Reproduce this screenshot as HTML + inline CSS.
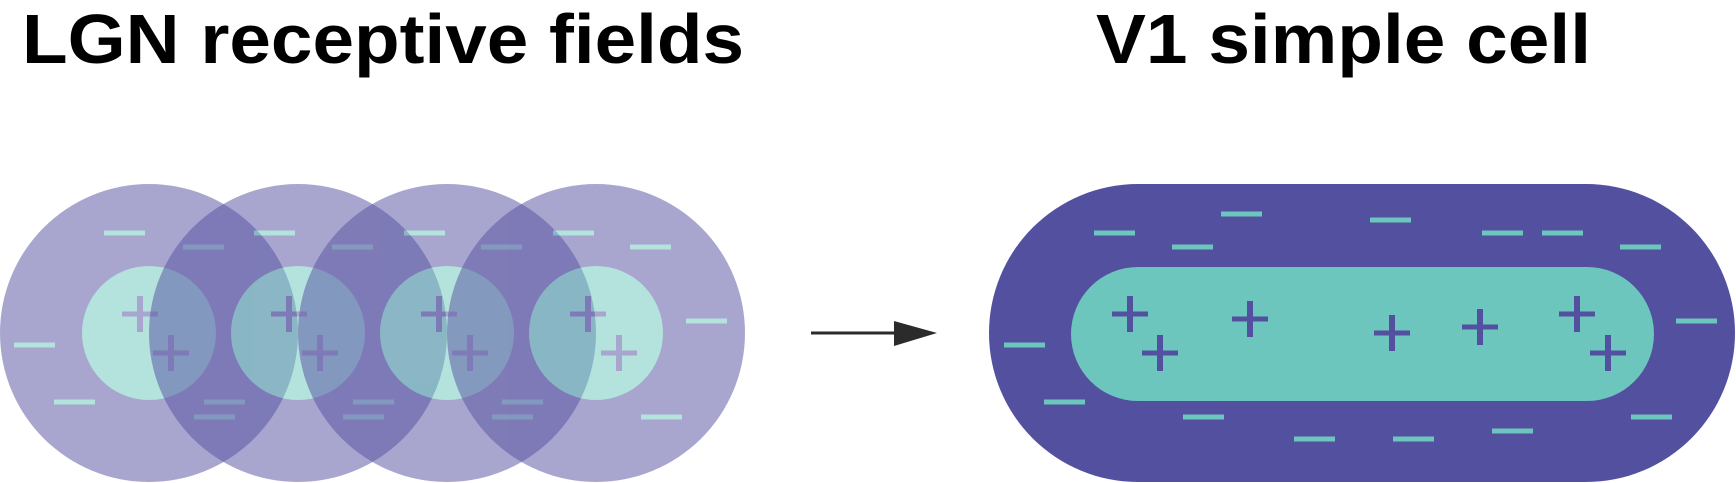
<!DOCTYPE html>
<html><head><meta charset="utf-8"><style>
html,body{margin:0;padding:0;background:#fff;}
svg{display:block;}
text{font-family:"Liberation Sans",Arial,sans-serif;font-weight:bold;fill:#000;}
</style></head><body>
<svg id="fig" width="1736" height="483" viewBox="0 0 1736 483" xmlns="http://www.w3.org/2000/svg">
<text x="22" y="63" font-size="70" textLength="722" lengthAdjust="spacingAndGlyphs">LGN receptive fields</text>
<text x="1096" y="63" font-size="70" textLength="495" lengthAdjust="spacingAndGlyphs">V1 simple cell</text>
<g id="lgn"></g>
<g>
<line x1="811" y1="333" x2="896" y2="333" stroke="#2b2b2b" stroke-width="3"/>
<polygon points="894,321 937,333 894,346" fill="#2b2b2b"/>
</g>
<g id="v1"></g>
</svg>
<script>
const PURPLE='#5350a0', TEAL='#6cc6bd';
const lgnCentersX=[149,298,447,596];
const lgnCy=333, outerR=149, innerR=67;
// minus bars per LGN field [x-left, y-center]
const lgnMinus=[
 [[104,233],[14,345],[54,402],[164,345],[183,247],[194,417],[204,402]],
 [[254,233],[238,321],[332,247],[313,345],[343,417],[353,402]],
 [[404,233],[388,321],[481,247],[462,345],[492,417],[502,402]],
 [[553,233],[537,321],[630,247],[686,321],[641,417]]
];
const lgnPlus=[[[140,314],[171,353]],[[289,314],[320,353]],[[439,314],[470,353]],[[588,314],[619,353]]];
const v1Minus=[[1094,233],[1221,214],[1370,220],[1482,233],[1542,233],[1620,247],[1172,247],[1004,345],[1676,321],[1044,402],[1183,417],[1294,439],[1393,439],[1492,431],[1631,417]];
const v1Plus=[[1130,314],[1250,319],[1160,353],[1392,333],[1480,327],[1577,314],[1608,353]];
const NS='http://www.w3.org/2000/svg';
function mk(tag,attrs,parent){const e=document.createElementNS(NS,tag);for(const k in attrs)e.setAttribute(k,attrs[k]);parent.appendChild(e);return e;}
function minus(p,x,y){const r=mk('rect',{x:x,y:y-2.5,width:41,height:5,fill:TEAL},p);

}
function plus(p,x,y){const g=mk('g',{},p);


mk('rect',{x:x-18,y:y-2.5,width:36,height:5,fill:PURPLE},g);
mk('rect',{x:x-3,y:y-18,width:6,height:36,fill:PURPLE},g);}
const lgn=document.getElementById('lgn');
lgnCentersX.forEach((cx,i)=>{
 const g=mk('g',{opacity:0.5},lgn);
 
 
 const o=mk('circle',{cx:cx,cy:lgnCy,r:outerR,fill:PURPLE},g);
 
 
 const c=mk('circle',{cx:cx,cy:lgnCy,r:innerR,fill:TEAL},g);
 
 
 lgnMinus[i].forEach(m=>minus(g,m[0],m[1]));
 lgnPlus[i].forEach(p=>plus(g,p[0],p[1]));
});
const v1=document.getElementById('v1');
const ov=mk('rect',{x:989,y:184,width:746,height:298,rx:149,ry:149,fill:PURPLE},v1);


const iv=mk('rect',{x:1071,y:267,width:583,height:134,rx:67,ry:67,fill:TEAL},v1);


v1Minus.forEach(m=>minus(v1,m[0],m[1]));
v1Plus.forEach(p=>plus(v1,p[0],p[1]));
</script>
</body></html>
